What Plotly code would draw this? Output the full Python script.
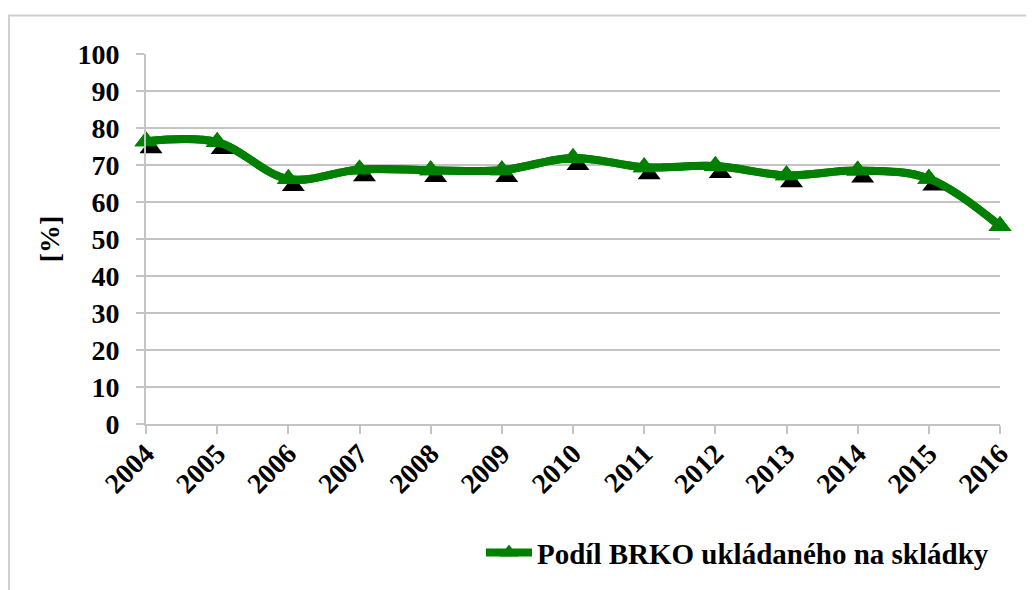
import plotly.graph_objects as go

years = [2004, 2005, 2006, 2007, 2008, 2009, 2010, 2011, 2012, 2013, 2014, 2015, 2016]
share = [76.4, 76.2, 66.2, 68.8, 68.6, 68.6, 71.9, 69.4, 69.7, 67.2, 68.5, 66.3, 53.5]
series_name = "Podíl BRKO ukládaného na skládky"
y_ticks = [0, 10, 20, 30, 40, 50, 60, 70, 80, 90, 100]

FONT = "Liberation Serif"
GREEN = "#008000"
GRID = "#c4c4c4"

# page has an 8px body margin: work in figure coordinates
OFF = 8
W, H = 1034 - OFF, 590 - OFF
L, R, T, B = 146 - OFF, 1000 - OFF, 54 - OFF, 428 - OFF
px_per_x = (R - L) / (years[-1] - years[0])
px_per_y = (B - T) / 100.0
dx = 5 / px_per_x
dy = 7 / px_per_y

def px(xp):
    return (xp - OFF - L) / (R - L)

def py(yp):
    return (B - (yp - OFF)) / (B - T)

line_style = dict(color=GREEN, width=8, shape="spline", smoothing=1.0)
marker_style = dict(symbol="triangle-up", size=20, color=GREEN)

fig = go.Figure()

fig.add_trace(go.Scatter(
    x=years, y=share, mode="lines+markers", name=series_name,
    line=line_style, marker=marker_style, cliponaxis=False))

fig.add_trace(go.Scatter(
    x=years, y=share, mode="markers", xaxis="x2", yaxis="y2",
    marker=dict(symbol="triangle-up", size=20, color="black"),
    showlegend=False, hoverinfo="skip", cliponaxis=False))

fig.add_trace(go.Scatter(
    x=years, y=share, mode="lines+markers", name=series_name,
    xaxis="x3", yaxis="y3", line=line_style, marker=marker_style,
    showlegend=False, hoverinfo="skip", cliponaxis=False))

tickfont = dict(family=FONT, size=28, color="black", weight="bold")

fig.update_layout(
    width=W, height=H,
    margin=dict(l=L, r=W - R, t=T, b=H - B),
    paper_bgcolor="white", plot_bgcolor="white",
    xaxis=dict(range=[years[0], years[-1]], tickvals=years, ticktext=[str(v) for v in years],
               tickangle=-45, tickfont=tickfont, showgrid=False,
               showline=True, linecolor=GRID, linewidth=2,
               ticks="outside", ticklen=8, tickcolor=GRID, tickwidth=2, zeroline=False,
               ticklabelstandoff=-8),
    yaxis=dict(range=[0, 100], tickvals=y_ticks, tickfont=tickfont,
               showgrid=True, gridcolor=GRID, gridwidth=2,
               showline=True, linecolor=GRID, linewidth=2,
               ticks="outside", ticklen=8, tickcolor=GRID, tickwidth=2,
               ticklabelstandoff=11, zeroline=False,
               title=dict(text="[%]", font=tickfont, standoff=10)),
    xaxis2=dict(overlaying="x", range=[years[0] - dx, years[-1] - dx], visible=False),
    yaxis2=dict(overlaying="y", range=[0 + dy, 100 + dy], visible=False),
    xaxis3=dict(overlaying="x", range=[years[0], years[-1]], visible=False),
    yaxis3=dict(overlaying="y", range=[0, 100], visible=False),
    legend=dict(x=px(481), y=py(558), xanchor="left", yanchor="middle",
                itemwidth=46,
                font=dict(family=FONT, size=29, color="black", weight="bold"),
                bgcolor="rgba(0,0,0,0)"),
    showlegend=True,
    shapes=[dict(type="rect", xref="paper", yref="paper",
                 x0=px(9), x1=px(1032), y0=py(640), y1=py(15),
                 line=dict(color="#d0d0d0", width=2), fillcolor="rgba(0,0,0,0)", layer="below")],
)

fig.write_html("out.html")
